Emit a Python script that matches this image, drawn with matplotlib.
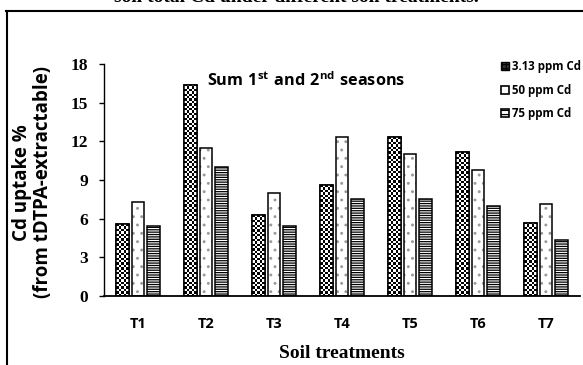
import numpy as np
import matplotlib
matplotlib.use("Agg")
import matplotlib.pyplot as plt
from matplotlib.patches import Patch
from matplotlib.lines import Line2D

plt.rcParams['mathtext.fontset'] = 'custom'
plt.rcParams['mathtext.rm'] = 'Open Sans'
plt.rcParams['mathtext.bf'] = 'Open Sans:bold'
plt.rcParams['hatch.linewidth'] = 0.9

treatments = ["T1", "T2", "T3", "T4", "T5", "T6", "T7"]
series_names = ["3.13 ppm Cd", "50 ppm Cd", "75 ppm Cd"]
cd_313 = [5.55, 16.4, 6.25, 8.6, 12.3, 11.15, 5.7]
cd_50 = [7.3, 11.5, 8.0, 12.35, 11.0, 9.8, 7.1]
cd_75 = [5.4, 10.0, 5.45, 7.55, 7.55, 7.0, 4.35]

serif = "Liberation Serif"
sans = "Open Sans"

fig = plt.figure(figsize=(5.83, 3.65), dpi=100)
ax = fig.add_axes([0.178, 0.189, 0.817, 0.636])

x = np.arange(len(treatments))
width = 0.185
step = 0.228

# first series: checkerboard fill clipped to each bar
bars1 = ax.bar(x - step, cd_313, width, facecolor="white", edgecolor="black", linewidth=1.1, zorder=2)
px_x = 476 / 7.0   # pixels per category
px_y = 232 / 18.0  # pixels per unit
cell = 2.4
for b in bars1:
    x0, w, h = b.get_x(), b.get_width(), b.get_height()
    nx = max(1, int(round(w * px_x / cell)))
    ny = max(1, int(round(h * px_y / cell)))
    checker = (np.indices((ny, nx)).sum(axis=0) % 2).astype(float)
    im = ax.imshow(checker, cmap="gray", extent=(x0, x0 + w, 0, h), aspect="auto",
                   interpolation="nearest", zorder=2.5)
    im.set_clip_path(b)
ax.bar(x - step, cd_313, width, facecolor="none", edgecolor="black", linewidth=1.1, zorder=3)

# second series: faint grey dots, outline drawn on top
ax.bar(x, cd_50, width, facecolor="white", edgecolor="#9a9a9a", hatch="..", linewidth=0, zorder=2)
ax.bar(x, cd_50, width, facecolor="none", edgecolor="black", linewidth=1.1, zorder=3)
ax.bar(x + step, cd_75, width, facecolor="white", edgecolor="black", hatch="-------", linewidth=1.1, zorder=2)

ax.set_xlim(-0.5, 6.5)
ax.set_ylim(0, 18)
ax.set_yticks(np.arange(0, 19, 3))
ax.set_xticks(x)
ax.set_xticklabels(treatments, fontfamily=sans, fontweight="bold", fontsize=10.5)
for lab in ax.get_yticklabels():
    lab.set_fontfamily(serif)
    lab.set_fontweight("bold")
    lab.set_fontsize(12.5)
ax.tick_params(axis="y", direction="out", length=3.5, width=1, pad=8)
ax.tick_params(axis="x", length=0, pad=15)
for s in ["top", "right"]:
    ax.spines[s].set_visible(False)
ax.spines["left"].set_linewidth(1)
ax.spines["bottom"].set_linewidth(1.3)

ax.set_xlabel("Soil treatments", fontfamily=serif, fontweight="bold", fontsize=14, labelpad=10)

fig.text(0.037, 0.50, "Cd uptake %", rotation=90, ha="center", va="center",
         fontfamily=sans, fontweight="bold", fontsize=13.5)
fig.text(0.073, 0.50, "(from tDTPA-extractable)", rotation=90, ha="center", va="center",
         fontfamily=sans, fontweight="bold", fontsize=13.5)

ax.text(0.216, 0.905, r"$\mathbf{Sum\ 1^{st}\ and\ 2^{nd}\ seasons}$", transform=ax.transAxes,
        ha="left", va="baseline", fontsize=11.7)

handles = [
    Patch(facecolor="#333333", edgecolor="black", hatch="++++", linewidth=1),
    Patch(facecolor="white", edgecolor="black", linewidth=1.2),
    Patch(facecolor="white", edgecolor="black", hatch="----", linewidth=1.2),
]
leg = fig.legend(handles, series_names, loc="upper left", bbox_to_anchor=(0.86, 0.835),
                 frameon=False, handlelength=0.7, handleheight=0.7, handletextpad=0.25,
                 labelspacing=0.9, borderaxespad=0, borderpad=0,
                 prop={"family": sans, "weight": "bold", "size": 8.3})

# outer frame and cut-off heading above it
fig.add_artist(Line2D([6.5 / 583, 6.5 / 583], [0, 1 - 11 / 365], color="black", linewidth=1.5,
                      transform=fig.transFigure))
fig.add_artist(Line2D([6 / 583, 1], [1 - 11 / 365, 1 - 11 / 365], color="black", linewidth=1.5,
                      transform=fig.transFigure))
fig.text(0.508, 0.994, "soil total Cd under different soil treatments.", ha="center", va="baseline",
         fontfamily=serif, fontweight="bold", fontsize=14)

fig.savefig("out.png", dpi=100)
